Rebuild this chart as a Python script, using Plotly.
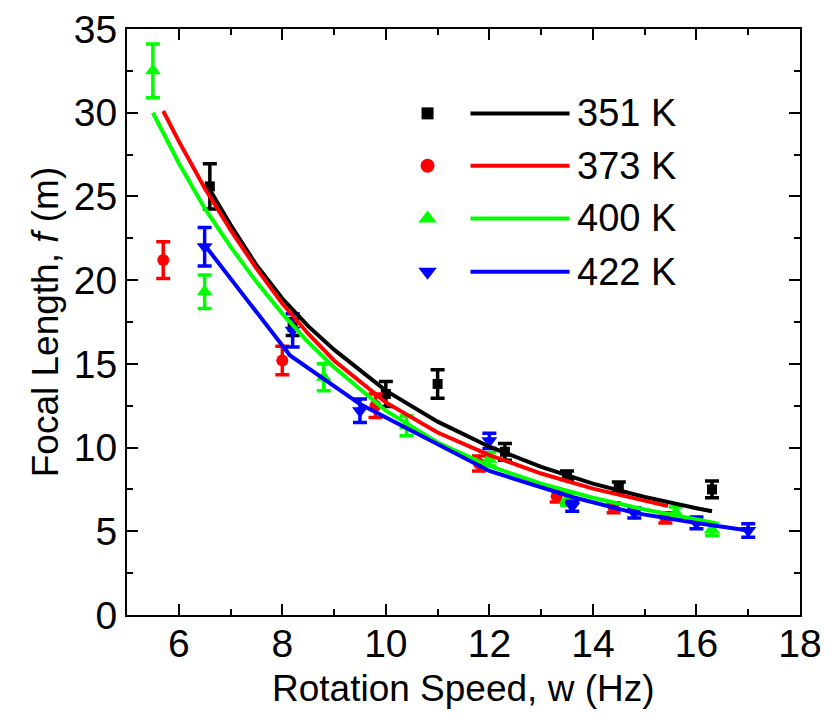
import plotly.graph_objects as go

# ---- data ----
temps = ["351 K", "373 K", "400 K", "422 K"]
colors = ["#000000", "#FF0000", "#00FF00", "#0000FF"]
symbols = ["square", "circle", "triangle-up", "triangle-down"]
msizes = [10, 12, 14, 14]

x351 = [6.6, 8.2, 10.0, 11.0, 12.3, 13.5, 14.5, 16.3]
y351 = [25.6, 17.2, 13.2, 13.8, 9.75, 8.35, 7.65, 7.5]
e351 = [1.35, 0.5, 0.75, 0.85, 0.5, 0.25, 0.3, 0.5]

x373 = [5.7, 8.0, 9.8, 11.8, 13.3, 14.4, 15.4]
y373 = [21.2, 15.2, 12.5, 9.05, 7.1, 6.4, 5.8]
e373 = [1.1, 0.85, 0.7, 0.45, 0.35, 0.3, 0.3]

x400 = [5.5, 6.5, 8.8, 10.4, 12.0, 13.5, 15.6, 16.3]
y400 = [32.5, 19.3, 14.2, 11.3, 9.3, 6.9, 6.1, 5.1]
e400 = [1.6, 1.0, 0.8, 0.6, 0.4, 0.35, 0.35, 0.35]

x422 = [6.5, 8.2, 9.5, 12.0, 13.6, 14.8, 16.0, 17.0]
y422 = [22.0, 17.0, 12.2, 10.4, 6.5, 6.1, 5.5, 5.05]
e422 = [1.15, 1.0, 0.7, 0.45, 0.3, 0.3, 0.35, 0.4]

fit351_x = [6.6, 7.0, 7.5, 8.0, 8.5, 9.0, 10.0, 11.0, 12.0, 13.0, 14.0, 15.0, 16.0, 16.3]
fit351_y = [25.4, 23.3, 20.9, 18.9, 17.25, 15.85, 13.4, 11.55, 10.05, 8.85, 7.85, 7.05, 6.38, 6.2]

fit373_x = [5.7, 6.0, 6.5, 7.0, 7.5, 8.0, 8.5, 9.0, 10.0, 11.0, 12.0, 13.0, 14.0, 15.0, 15.45]
fit373_y = [30.1, 28.3, 25.5, 23.0, 20.7, 18.6, 16.8, 15.2, 12.7, 10.9, 9.55, 8.45, 7.55, 6.8, 6.5]

fit400_x = [5.5, 6.0, 6.5, 7.0, 7.5, 8.0, 8.5, 9.0, 10.0, 11.0, 12.0, 13.0, 14.0, 15.0, 16.0, 16.4]
fit400_y = [30.0, 27.0, 24.3, 22.0, 19.9, 18.0, 16.3, 14.8, 12.2, 10.3, 8.9, 7.85, 7.0, 6.3, 5.7, 5.46]

fit422_x = [6.5, 8.15, 9.5, 12.0, 13.6, 14.8, 16.0, 17.0]
fit422_y = [22.1, 15.5, 12.6, 8.6, 7.05, 6.1, 5.5, 5.05]

xticks = [6, 8, 10, 12, 14, 16, 18]
yticks = [0, 5, 10, 15, 20, 25, 30, 35]

pts = [(x351, y351, e351), (x373, y373, e373), (x400, y400, e400), (x422, y422, e422)]
fits = [(fit351_x, fit351_y), (fit373_x, fit373_y), (fit400_x, fit400_y), (fit422_x, fit422_y)]

FONT = "Liberation Sans, Arial, sans-serif"

fig = go.Figure()

for (xs, ys, es), c, s, ms, name in zip(pts, colors, symbols, msizes, temps):
    fig.add_trace(go.Scatter(
        x=xs, y=ys, mode="markers", name=name, showlegend=False,
        marker=dict(symbol=s, size=ms, color=c, opacity=1, line=dict(width=0)),
        error_y=dict(type="data", array=es, visible=True, color=c, thickness=3.5, width=7),
    ))

for (fx, fy), c, name in zip(fits, colors, temps):
    fig.add_trace(go.Scatter(
        x=fx, y=fy, mode="lines", name=name, showlegend=False,
        line=dict(color=c, width=4),
    ))

# ---- custom legend (marker, line sample, label) ----
leg_y = [0.856, 0.7666, 0.6768, 0.5856]
fig.add_trace(go.Scatter(
    x=[0.4466] * 4, y=leg_y, mode="markers", showlegend=False, hoverinfo="skip",
    xaxis="x2", yaxis="y2",
    marker=dict(symbol=symbols, size=[12, 14, 16, 16], color=colors, opacity=1, line=dict(width=0)),
))
for yy, c, name in zip(leg_y, colors, temps):
    fig.add_shape(type="line", xref="paper", yref="paper", x0=0.5104, x1=0.6576,
                  y0=yy, y1=yy, line=dict(color=c, width=4))
    fig.add_annotation(x=0.666, y=yy, xref="paper", yref="paper", text=name,
                       showarrow=False, xanchor="left", yanchor="middle",
                       font=dict(family=FONT, size=38, color="black"))

fig.add_annotation(x=0.5, y=-0.125, xref="paper", yref="paper",
                   text="Rotation Speed, w (Hz)", showarrow=False,
                   xanchor="center", yanchor="middle",
                   font=dict(family=FONT, size=37, color="black"))

axis_common = dict(
    showline=True, linewidth=2, linecolor="black", mirror="allticks",
    ticks="inside", ticklen=11, tickwidth=2, tickcolor="black",
    showgrid=False, zeroline=False, ticklabeloverflow="allow", automargin=False,
    tickfont=dict(family=FONT, size=39, color="black"),
)

fig.update_layout(
    width=823, height=709, autosize=False,
    margin=dict(l=119, r=31, t=21, b=102),
    paper_bgcolor="white", plot_bgcolor="white",
    showlegend=False,
    xaxis=dict(range=[5, 18], tickvals=xticks, **axis_common, ticklabelstandoff=-7,
               minor=dict(dtick=1, ticklen=6, tickwidth=2, tickcolor="black", ticks="inside")),
    yaxis=dict(range=[0, 35], tickvals=yticks, **axis_common, ticklabelstandoff=0,
               minor=dict(dtick=2.5, ticklen=6, tickwidth=2, tickcolor="black", ticks="inside"),
               title=dict(text="Focal Length, <i>f</i> (m)", standoff=4,
                          font=dict(family=FONT, size=37, color="black"))),
    xaxis2=dict(overlaying="x", range=[0, 1], visible=False),
    yaxis2=dict(overlaying="y", range=[0, 1], visible=False),
)

fig.write_html("out.html")
